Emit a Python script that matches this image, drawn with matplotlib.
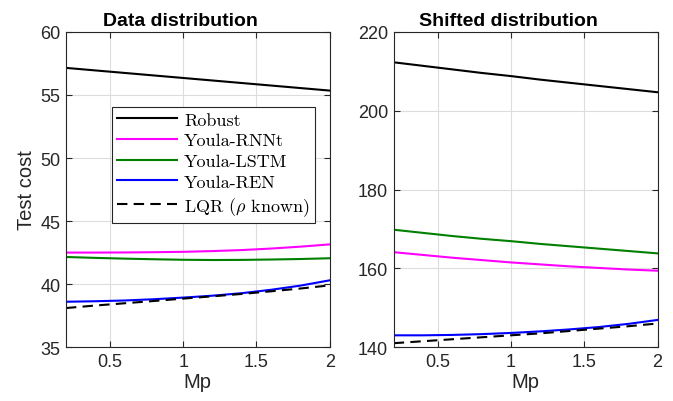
import matplotlib
matplotlib.use("Agg")
import matplotlib.pyplot as plt

plt.rcParams['font.family'] = ['Liberation Sans', 'DejaVu Sans']
plt.rcParams['mathtext.fontset'] = 'cm'

mp = [0.2, 0.4, 0.6, 0.8, 1.0, 1.2, 1.4, 1.6, 1.8, 2.0]

# data distribution
data_robust = [57.15, 56.95, 56.75, 56.55, 56.35, 56.15, 55.95, 55.75, 55.55, 55.35]
data_rnnt = [42.50, 42.50, 42.51, 42.53, 42.56, 42.62, 42.70, 42.82, 42.97, 43.15]
data_lstm = [42.15, 42.08, 42.02, 41.97, 41.93, 41.91, 41.92, 41.95, 41.99, 42.05]
data_ren = [38.60, 38.64, 38.70, 38.80, 38.93, 39.08, 39.28, 39.55, 39.88, 40.30]
data_lqr = [38.10, 38.30, 38.48, 38.66, 38.85, 39.03, 39.22, 39.43, 39.65, 39.90]

# shifted distribution
shift_robust = [212.3, 211.4, 210.5, 209.6, 208.8, 207.9, 207.1, 206.3, 205.5, 204.7]
shift_rnnt = [164.1, 163.4, 162.7, 162.1, 161.5, 161.0, 160.5, 160.1, 159.7, 159.4]
shift_lstm = [169.8, 169.0, 168.2, 167.5, 166.9, 166.2, 165.6, 165.0, 164.4, 163.8]
shift_ren = [143.0, 143.0, 143.1, 143.3, 143.6, 144.0, 144.5, 145.1, 145.9, 146.9]
shift_lqr = [141.0, 141.5, 142.0, 142.5, 143.0, 143.5, 144.1, 144.7, 145.3, 146.0]

labels = ['Robust', 'Youla-RNNt', 'Youla-LSTM', 'Youla-REN', r'LQR ($\rho$ known)']
colors = ['black', '#ff00ff', '#008000', '#0000ff', 'black']
styles = ['-', '-', '-', '-', '--']

fig = plt.figure(figsize=(6.73, 4.02), dpi=100)
ax1 = fig.add_axes([0.098, 0.134, 0.392, 0.784])
ax2 = fig.add_axes([0.585, 0.134, 0.392, 0.784])

panels = [
    (ax1, [data_robust, data_rnnt, data_lstm, data_ren, data_lqr], 'Data distribution', (35, 60), [35, 40, 45, 50, 55, 60]),
    (ax2, [shift_robust, shift_rnnt, shift_lstm, shift_ren, shift_lqr], 'Shifted distribution', (140, 220), [140, 160, 180, 200, 220]),
]

for ax, series, title, ylim, yt in panels:
    for ys, c, ls, lab in zip(series, colors, styles, labels):
        ax.plot(mp, ys, color=c, linestyle=ls, linewidth=1.5, label=lab,
                dashes=(5, 3) if ls == '--' else (None, None))
    ax.set_xlim(0.2, 2)
    ax.set_ylim(*ylim)
    ax.set_xticks([0.5, 1, 1.5, 2])
    ax.set_xticklabels(['0.5', '1', '1.5', '2'])
    ax.set_yticks(yt)
    ax.grid(True, color='#dddddd', linewidth=0.8)
    ax.set_axisbelow(True)
    ax.tick_params(direction='in', top=True, right=True, labelsize=13,
                   colors='#262626', length=4, pad=4)
    for s in ax.spines.values():
        s.set_color('#262626')
        s.set_linewidth(0.8)
    ax.set_title(title, fontsize=14, fontweight='bold', pad=5, x=0.435)
    ax.set_xlabel('Mp', fontsize=14.5, color='#262626', labelpad=2)

ax1.set_ylabel('Test cost', fontsize=14.5, color='#262626', labelpad=3)

leg = ax1.legend(loc='upper left', bbox_to_anchor=(0.174, 0.763), prop={'family': 'cmr10', 'size': 13},
                 frameon=True, fancybox=False, edgecolor='#262626', framealpha=1,
                 handlelength=3.3, handletextpad=0.4, labelspacing=0.28, borderpad=0.3,
                 borderaxespad=0)
leg.get_frame().set_linewidth(0.8)

fig.savefig('out.png', dpi=100)
